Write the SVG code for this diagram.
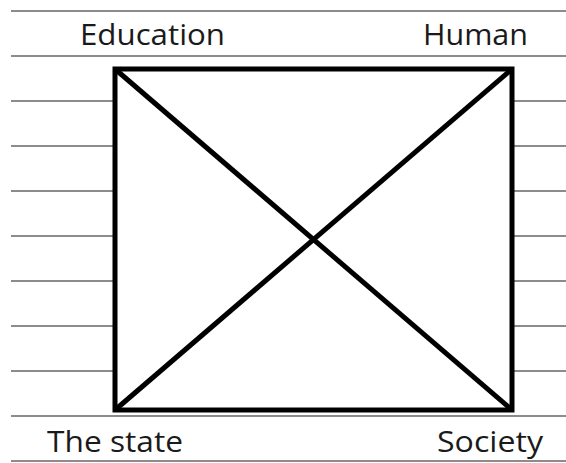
<svg xmlns="http://www.w3.org/2000/svg" width="566" height="463" viewBox="0 0 566 463">
<style>
.rule{stroke:#8c8c8c;stroke-width:2;fill:none}
.box{stroke:#000;stroke-width:5;fill:none;stroke-linejoin:miter}
.lbl{font-family:"Open Sans",Lato,sans-serif;font-size:29px;fill:#1a1a1a;font-variant-ligatures:none}
</style>
<rect width="566" height="463" fill="#fff"/>
<g id="rules">
<line class="rule" x1="11" y1="11" x2="566" y2="11"/>
<line class="rule" x1="11" y1="56" x2="566" y2="56"/>
<line class="rule" x1="11" y1="101" x2="566" y2="101"/>
<line class="rule" x1="11" y1="146" x2="566" y2="146"/>
<line class="rule" x1="11" y1="191" x2="566" y2="191"/>
<line class="rule" x1="11" y1="236" x2="566" y2="236"/>
<line class="rule" x1="11" y1="281" x2="566" y2="281"/>
<line class="rule" x1="11" y1="326" x2="566" y2="326"/>
<line class="rule" x1="11" y1="371" x2="566" y2="371"/>
<line class="rule" x1="11" y1="416" x2="566" y2="416"/>
<line class="rule" x1="11" y1="461" x2="566" y2="461"/>
</g>
<g id="square">
<rect x="115" y="69" width="397" height="341" fill="#fff" stroke="none"/>
<rect class="box" x="115" y="69" width="397" height="341"/>
</g>
<g id="connectors">
<line class="box" x1="115" y1="69" x2="512" y2="410"/>
<line class="box" x1="512" y1="69" x2="115" y2="410"/>
</g>
<g id="education"><text class="lbl" x="80" y="45" textLength="145" lengthAdjust="spacingAndGlyphs">Education</text></g>
<g id="human"><text class="lbl" x="423" y="45" textLength="105" lengthAdjust="spacingAndGlyphs">Human</text></g>
<g id="the-state"><text class="lbl" x="47" y="452" textLength="136" lengthAdjust="spacingAndGlyphs">The state</text></g>
<g id="society"><text class="lbl" x="437" y="452" textLength="106" lengthAdjust="spacingAndGlyphs">Society</text></g>
</svg>
